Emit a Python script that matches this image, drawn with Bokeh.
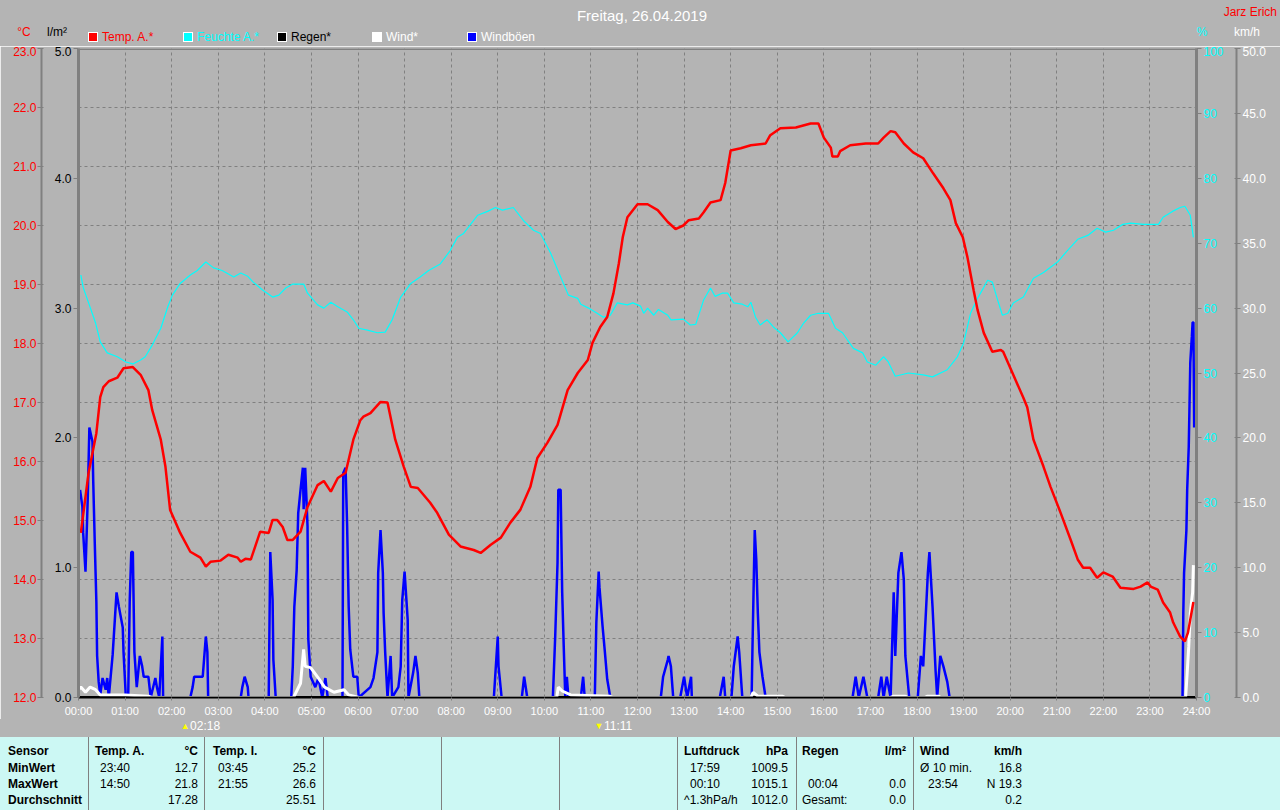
from bokeh.plotting import figure
from bokeh.models import (Range1d, LinearAxis, FixedTicker, NumeralTickFormatter, Span, Div)
from bokeh.layouts import column
from bokeh.embed import file_html
from bokeh.resources import INLINE

# ---------------- data ----------------
hour_ticks = [0, 60, 120, 180, 240, 300, 360, 420, 480, 540, 600, 660, 720,
              780, 840, 900, 960, 1020, 1080, 1140, 1200, 1260, 1320, 1380, 1440]
hour_labels = ["00:00", "01:00", "02:00", "03:00", "04:00", "05:00", "06:00",
               "07:00", "08:00", "09:00", "10:00", "11:00", "12:00", "13:00",
               "14:00", "15:00", "16:00", "17:00", "18:00", "19:00", "20:00",
               "21:00", "22:00", "23:00", "24:00"]
temp_ticks = [12, 13, 14, 15, 16, 17, 18, 19, 20, 21, 22, 23]
rain_ticks = [0, 1, 2, 3, 4, 5]
hum_ticks = [0, 10, 20, 30, 40, 50, 60, 70, 80, 90, 100]
wind_ticks = [0, 5, 10, 15, 20, 25, 30, 35, 40, 45, 50]

# Temp. A. (minutes after midnight, degC)
temp_t = [3, 13, 23, 28, 32, 39, 50, 58, 70, 80,
          90, 95, 106, 112, 118, 131, 144, 157, 164, 170,
          183, 193, 205, 209, 215, 222, 234, 245, 250, 256,
          263, 269, 276, 286, 295, 308, 316, 325, 334, 344,
          354, 363, 367, 376, 389, 398, 408, 419, 428, 437,
          453, 462, 477, 492, 509, 518, 531, 544, 556, 569,
          582, 591, 604, 617, 630, 643, 656, 662, 672, 681,
          689, 696, 701, 707, 720, 733, 746, 759, 769, 779,
          786, 799, 805, 814, 827, 833, 840, 853, 866, 885,
          891, 904, 924, 943, 953, 960, 969, 971, 978, 981,
          994, 1014, 1030, 1037, 1046, 1052, 1063, 1075, 1088, 1101,
          1114, 1123, 1130, 1139, 1145, 1153, 1158, 1166, 1177, 1188,
          1191, 1203, 1217, 1222, 1230, 1243, 1252, 1265, 1278, 1287,
          1294, 1303, 1312, 1320, 1332, 1342, 1359, 1368, 1377, 1381,
          1390, 1397, 1406, 1410, 1419, 1425, 1429, 1436]
temp_v = [14.79, 15.81, 16.48, 17.09, 17.26, 17.36, 17.42, 17.58, 17.60, 17.47,
          17.21, 16.87, 16.37, 15.91, 15.18, 14.79, 14.47, 14.37, 14.22, 14.30,
          14.32, 14.42, 14.37, 14.30, 14.35, 14.34, 14.81, 14.79, 15.01, 15.01,
          14.89, 14.67, 14.67, 14.81, 15.23, 15.60, 15.67, 15.49, 15.72, 15.81,
          16.37, 16.70, 16.76, 16.82, 17.01, 17.00, 16.37, 15.91, 15.57, 15.55,
          15.30, 15.13, 14.76, 14.56, 14.50, 14.45, 14.59, 14.71, 14.96, 15.18,
          15.57, 16.06, 16.32, 16.62, 17.21, 17.50, 17.72, 18.01, 18.28, 18.45,
          18.85, 19.36, 19.80, 20.14, 20.36, 20.36, 20.26, 20.06, 19.94, 20.00,
          20.09, 20.12, 20.22, 20.39, 20.43, 20.72, 21.27, 21.31, 21.36, 21.39,
          21.53, 21.65, 21.66, 21.73, 21.73, 21.49, 21.32, 21.17, 21.17, 21.26,
          21.36, 21.39, 21.39, 21.49, 21.60, 21.58, 21.39, 21.24, 21.14, 20.88,
          20.63, 20.43, 20.04, 19.80, 19.46, 18.90, 18.57, 18.18, 17.86, 17.89,
          17.86, 17.50, 17.08, 16.92, 16.37, 15.91, 15.57, 15.13, 14.67, 14.34,
          14.20, 14.20, 14.03, 14.12, 14.05, 13.86, 13.84, 13.88, 13.95, 13.88,
          13.83, 13.61, 13.44, 13.27, 13.03, 12.95, 13.10, 13.62]

# Feuchte A. (minutes, %)
hum_t = [3, 6, 13, 22, 28, 37, 50, 61, 70, 80,
         86, 95, 106, 115, 121, 131, 144, 153, 164, 174,
         185, 200, 209, 218, 225, 237, 250, 258, 267, 276,
         290, 295, 308, 316, 325, 334, 346, 354, 361, 372,
         385, 395, 404, 415, 428, 440, 451, 466, 479, 488,
         496, 514, 527, 537, 546, 560, 573, 586, 595, 608,
         621, 631, 643, 647, 657, 668, 676, 685, 694, 707,
         714, 724, 728, 733, 741, 747, 759, 763, 779, 788,
         795, 805, 814, 820, 829, 836, 844, 855, 862, 866,
         872, 878, 887, 895, 904, 914, 926, 934, 943, 953,
         966, 975, 984, 998, 1010, 1016, 1027, 1037, 1043, 1052,
         1069, 1088, 1100, 1119, 1132, 1140, 1149, 1158, 1166, 1171,
         1177, 1184, 1190, 1197, 1204, 1217, 1230, 1243, 1261, 1274,
         1287, 1300, 1312, 1323, 1333, 1345, 1355, 1372, 1391, 1397,
         1409, 1419, 1425, 1432, 1436]
hum_v = [65.1, 63.2, 60.8, 57.7, 54.8, 53.1, 52.5, 51.7, 51.4, 52.0,
         52.5, 54.3, 56.9, 60.2, 62.0, 63.8, 65.1, 65.8, 67.1, 66.2,
         65.8, 64.8, 65.4, 64.9, 64.0, 62.8, 61.7, 62.0, 63.1, 63.7,
         63.7, 62.3, 60.5, 60.0, 60.9, 60.2, 59.4, 58.2, 56.9, 56.6,
         56.2, 56.3, 58.2, 61.7, 63.8, 64.8, 65.8, 66.8, 68.9, 70.9,
         71.5, 74.3, 74.9, 75.5, 75.1, 75.5, 73.5, 72.0, 71.5, 68.5,
         64.8, 62.0, 61.5, 60.6, 60.0, 59.2, 58.6, 58.9, 60.8, 60.5,
         60.8, 60.3, 59.2, 60.0, 58.9, 59.8, 58.9, 58.2, 58.3, 57.4,
         57.5, 61.2, 63.1, 61.8, 62.3, 62.3, 60.8, 60.6, 60.2, 60.9,
         58.6, 57.4, 58.2, 57.1, 56.2, 54.8, 56.2, 57.7, 58.9, 59.2,
         59.2, 56.9, 56.2, 53.8, 53.1, 51.7, 51.2, 52.5, 51.7, 49.5,
         50.0, 49.7, 49.4, 50.5, 52.5, 54.6, 59.2, 61.5, 63.2, 64.3,
         64.0, 61.2, 58.9, 59.2, 60.8, 61.7, 64.6, 65.5, 67.1, 68.9,
         70.6, 71.2, 72.3, 71.7, 72.0, 72.9, 73.1, 72.9, 72.9, 74.0,
         74.9, 75.5, 75.7, 74.3, 70.9]

# Regen (minutes, l/m2)
rain_t = [0, 1440]
rain_v = [0.0, 0.0]

# Wind (minutes, km/h)
wind_t = [0, 3, 9, 15, 22, 28, 60, 90, 95,
          277, 286, 290, 292, 299, 309, 317, 329, 342, 348, 361,
          616, 618, 623, 634, 685, 688,
          866, 869, 875, 907, 910,
          1046, 1050, 1065, 1068,
          1090, 1093, 1108, 1110,
          1426, 1428, 1430, 1432, 1435, 1436]
wind_v = [0.6, 0.8, 0.4, 0.8, 0.6, 0.2, 0.2, 0.1, 0.0,
          0.0, 1.1, 3.7, 2.4, 2.3, 1.5, 0.8, 0.4, 0.6, 0.2, 0.0,
          0.0, 0.8, 0.5, 0.2, 0.1, 0.0,
          0.0, 0.4, 0.1, 0.1, 0.0,
          0.0, 0.1, 0.1, 0.0,
          0.0, 0.1, 0.1, 0.0,
          0.0, 1.9, 3.9, 6.5, 8.1, 10.2]

# Windboeen (minutes, km/h)
gust_t = [2, 5, 6, 9, 12, 14, 18, 19, 21, 23,
          24, 26, 28, 31, 35, 37, 39, 44, 49, 52,
          57, 58, 61, 64, 66, 68, 70, 72, 75, 79,
          82, 84, 90, 93, 99, 101, 104, 108, 109, 144,
          147, 149, 160, 164, 166, 167, 209, 211, 214, 218,
          219, 245, 247, 250, 251, 254, 274, 276, 278, 281,
          283, 286, 289, 290, 292, 295, 296, 299, 305, 309,
          314, 318, 321, 340, 341, 344, 346, 348, 350, 354,
          359, 361, 376, 380, 385, 386, 389, 392, 393, 395,
          398, 402, 404, 412, 415, 417, 420, 424, 425, 431,
          434, 437, 439, 535, 540, 541, 545, 571, 574, 578,
          611, 614, 617, 618, 621, 623, 625, 627, 629, 631,
          647, 650, 652, 665, 667, 670, 671, 675, 678, 681,
          685, 750, 753, 759, 760, 763, 765, 766, 775, 780,
          784, 789, 790, 826, 831, 833, 841, 844, 849, 851,
          855, 867, 868, 871, 873, 875, 877, 881, 885, 997,
          1001, 1005, 1011, 1016, 1030, 1034, 1037, 1041, 1046, 1050,
          1052, 1056, 1060, 1063, 1065, 1070, 1081, 1085, 1088, 1094,
          1096, 1100, 1104, 1106, 1110, 1114, 1119, 1122, 1422, 1423,
          1424, 1427, 1428, 1430, 1431, 1432, 1434, 1435, 1436, 1437]
gust_v = [16.0, 14.7, 12.7, 9.7, 15.5, 20.8, 19.7, 16.6, 11.8, 7.4,
          3.2, 1.2, 0.2, 1.5, 0.6, 1.5, 0.0, 3.3, 8.1, 7.0,
          5.4, 3.5, 0.0, 0.0, 7.5, 11.2, 11.2, 3.5, 0.8, 3.2,
          2.4, 1.6, 1.6, 0.0, 1.5, 0.8, 0.0, 4.7, 0.0, 0.0,
          0.8, 1.6, 1.6, 4.7, 3.5, 0.0, 0.0, 0.8, 1.6, 0.8,
          0.0, 0.0, 11.2, 7.5, 2.9, 0.0, 0.0, 2.4, 7.0, 9.8,
          14.2, 16.0, 17.7, 14.5, 17.7, 13.2, 4.5, 1.6, 0.8, 1.5,
          0.0, 1.5, 0.0, 0.0, 17.3, 17.7, 13.2, 7.0, 3.7, 1.6,
          1.6, 0.0, 0.8, 1.5, 3.5, 9.6, 12.9, 9.6, 6.5, 3.5,
          0.0, 3.2, 0.0, 0.8, 2.4, 7.5, 9.7, 6.0, 0.0, 1.9,
          3.2, 1.9, 0.0, 0.0, 4.7, 2.4, 0.0, 0.0, 1.6, 0.0,
          0.0, 4.7, 10.4, 16.0, 16.0, 8.1, 3.9, 0.0, 1.6, 0.0,
          0.0, 1.6, 0.0, 0.0, 5.8, 9.7, 8.5, 5.5, 3.5, 1.4,
          0.0, 0.0, 1.6, 2.9, 3.2, 2.4, 0.8, 0.0, 0.0, 1.6,
          0.0, 1.6, 0.0, 0.0, 1.6, 0.0, 0.0, 2.4, 4.7, 3.5,
          0.0, 0.0, 3.5, 12.9, 10.6, 6.5, 3.5, 1.6, 0.0, 0.0,
          1.6, 0.0, 1.6, 0.0, 0.0, 1.6, 0.0, 1.6, 0.0, 8.1,
          3.2, 9.6, 11.2, 9.1, 3.2, 0.0, 0.0, 3.2, 2.4, 9.6,
          11.2, 7.0, 2.0, 0.0, 3.2, 2.4, 1.2, 0.0, 0.0, 6.5,
          9.6, 12.9, 16.0, 19.3, 22.5, 25.8, 27.8, 28.9, 28.9, 20.8]

event_t = [138, 671]
event_lbl = ["02:18", "11:11"]
event_icon = ["\u25B2", "\u25BC"]

legend_names = ["Temp. A.*", "Feuchte A.*", "Regen*", "Wind*", "Windböen"]
legend_fill = ["#FF0000", "#00FFFF", "#000000", "#FFFFFF", "#0000FF"]
legend_text = ["#FF0000", "#00FFFF", "#000000", "#FFFFFF", "#FFFFFF"]

title_text = "Freitag, 26.04.2019"
author_text = "Jarz Erich"

table_cells = [
    # (x anchor px, row, text, align, bold)
    (8, 0, "Sensor", "left", True), (8, 1, "MinWert", "left", True),
    (8, 2, "MaxWert", "left", True), (8, 3, "Durchschnitt", "left", True),
    (95, 0, "Temp. A.", "left", True), (198, 0, "°C", "right", True),
    (100, 1, "23:40", "left", False), (198, 1, "12.7", "right", False),
    (100, 2, "14:50", "left", False), (198, 2, "21.8", "right", False),
    (198, 3, "17.28", "right", False),
    (213, 0, "Temp. I.", "left", True), (316, 0, "°C", "right", True),
    (218, 1, "03:45", "left", False), (316, 1, "25.2", "right", False),
    (218, 2, "21:55", "left", False), (316, 2, "26.6", "right", False),
    (316, 3, "25.51", "right", False),
    (684, 0, "Luftdruck", "left", True), (788, 0, "hPa", "right", True),
    (690, 1, "17:59", "left", False), (788, 1, "1009.5", "right", False),
    (690, 2, "00:10", "left", False), (788, 2, "1015.1", "right", False),
    (684, 3, "^1.3hPa/h", "left", False), (788, 3, "1012.0", "right", False),
    (802, 0, "Regen", "left", True), (906, 0, "l/m²", "right", True),
    (808, 2, "00:04", "left", False), (906, 2, "0.0", "right", False),
    (802, 3, "Gesamt:", "left", False), (906, 3, "0.0", "right", False),
    (920, 0, "Wind", "left", True), (1022, 0, "km/h", "right", True),
    (920, 1, "Ø 10 min.", "left", False), (1022, 1, "16.8", "right", False),
    (928, 2, "23:54", "left", False), (1022, 2, "N 19.3", "right", False),
    (1022, 3, "0.2", "right", False),
]

# ---------------- styles ----------------
W = 1280
BG = "#B4B4B4"
CYAN_BG = "#CCF8F4"
GRID = "#808080"
FONT = "Liberation Sans"
FRAME_L, FRAME_R = 78, 1196

# ---------------- chart ----------------
p = figure(width=W, height=673, x_range=Range1d(0, 1440), y_range=Range1d(12, 23),
           y_axis_location=None, output_backend="svg", toolbar_location=None,
           min_border_left=FRAME_L, min_border_right=W - FRAME_R,
           min_border_top=2, min_border_bottom=21,
           background_fill_color=BG, border_fill_color=BG, outline_line_color=None)
p.extra_y_ranges = {"rain": Range1d(0, 5), "hum": Range1d(0, 100), "wind": Range1d(0, 50)}

xa = p.xaxis[0]
xa.ticker = FixedTicker(ticks=hour_ticks)
xa.major_label_overrides = {t: l for t, l in zip(hour_ticks, hour_labels)}
xa.axis_line_color = "black"
xa.axis_line_width = 2
xa.major_tick_line_color = GRID
xa.major_tick_out = 3
xa.major_tick_in = 0
xa.minor_tick_line_color = None
xa.major_label_text_color = "white"
xa.major_label_text_font = FONT
xa.major_label_text_font_size = "11px"
xa.major_label_standoff = 4

p.xgrid.ticker = FixedTicker(ticks=hour_ticks)
p.ygrid.ticker = FixedTicker(ticks=temp_ticks)
for g in (p.xgrid[0], p.ygrid[0]):
    g.grid_line_color = GRID
    g.grid_line_dash = "3 3"
    g.grid_line_width = 1


def style_axis(ax, color, line_w, tick_out, tick_in, standoff, pad=None):
    ax.axis_line_color = GRID
    ax.axis_line_width = line_w
    ax.major_tick_line_color = GRID
    ax.major_tick_out = tick_out
    ax.major_tick_in = tick_in
    ax.minor_tick_line_color = None
    ax.major_label_text_color = color
    ax.major_label_text_font = FONT
    ax.major_label_text_font_size = "12px"
    ax.major_label_standoff = standoff
    if pad:
        ax.axis_label = "."
        ax.axis_label_text_alpha = 0
        ax.axis_label_text_font_size = pad
        ax.axis_label_standoff = 2


ax_rain = LinearAxis(y_range_name="rain", ticker=FixedTicker(ticks=rain_ticks),
                     formatter=NumeralTickFormatter(format="0.0"))
style_axis(ax_rain, "black", 3, 5, 0, 2, pad="8px")
p.add_layout(ax_rain, "left")

ax_temp = LinearAxis(ticker=FixedTicker(ticks=temp_ticks),
                     formatter=NumeralTickFormatter(format="0.0"))
style_axis(ax_temp, "#FF0000", 2, 4, 2, 1)
p.add_layout(ax_temp, "left")

ax_hum = LinearAxis(y_range_name="hum", ticker=FixedTicker(ticks=hum_ticks),
                    formatter=NumeralTickFormatter(format="0"))
style_axis(ax_hum, "#00FFFF", 3, 5, 0, 2, pad="7px")
p.add_layout(ax_hum, "right")

ax_wind = LinearAxis(y_range_name="wind", ticker=FixedTicker(ticks=wind_ticks),
                     formatter=NumeralTickFormatter(format="0.0"))
style_axis(ax_wind, "white", 2, 4, 2, 2)
p.add_layout(ax_wind, "right")

p.add_layout(Span(location=23, dimension="width", line_color=GRID, line_width=3))

p.line(gust_t, gust_v, y_range_name="wind", line_color="#0000FF", line_width=2.5)
p.line(rain_t, rain_v, y_range_name="rain", line_color="black", line_width=3)
p.line(wind_t, wind_v, y_range_name="wind", line_color="white", line_width=3)
p.line(hum_t, hum_v, y_range_name="hum", line_color="#00FFFF", line_width=1.2)
p.line(temp_t, temp_v, line_color="#FF0000", line_width=2.5)


# ---------------- html helpers for header / table ----------------
def txt(x, yc, text, color, size=12, align="left", bold=False, lh=14):
    if align == "left":
        pos = f"left:{x}px;"
    elif align == "right":
        pos = f"right:{W - x}px;"
    else:
        pos = f"left:{x}px;transform:translateX(-50%);"
    weight = "bold" if bold else "normal"
    return (f'<span style="position:absolute;{pos}top:{yc - lh / 2}px;line-height:{lh}px;'
            f'color:{color};font-size:{size}px;font-weight:{weight};white-space:nowrap;">'
            f'{text}</span>')


base_style = f"position:relative;width:{W}px;font-family:'{FONT}',Arial,sans-serif;overflow:hidden;"

# header: title, units, legend
hdr = [f'<div style="{base_style}height:46px;background:{BG};">']
hdr.append(txt(642, 15, title_text, "#FFFFFF", size=15, align="center", lh=17))
hdr.append(txt(1277, 12, author_text, "#FF0000", align="right"))
hdr.append(txt(24, 32, "°C", "#FF0000", align="center"))
hdr.append(txt(57, 32, "l/m²", "#000000", align="center"))
hdr.append(txt(1202, 32, "%", "#00FFFF", align="center"))
hdr.append(txt(1247, 32, "km/h", "#FFFFFF", align="center"))
leg_x = [88, 183, 277, 372, 467]
for name, fc, tc, lx in zip(legend_names, legend_fill, legend_text, leg_x):
    hdr.append(f'<span style="position:absolute;box-sizing:border-box;left:{lx}px;top:32px;'
               f'width:10px;height:10px;background:{fc};border:1px solid #FFFFFF;"></span>')
    hdr.append(txt(lx + 14, 37, name, tc))
hdr.append("</div>")
header = Div(text="".join(hdr), width=W, height=46, margin=0)

# footer: event markers + statistics table
scale = (FRAME_R - FRAME_L) / 1440.0
ftr = [f'<div style="{base_style}height:91px;background:{BG};">']
for et, el, ei in zip(event_t, event_lbl, event_icon):
    ex = FRAME_L + et * scale
    ftr.append(txt(round(ex, 1), 7, ei, "#FFFF00", size=9, align="center", lh=11))
    ftr.append(txt(round(ex + 5, 1), 7, el, "#FFFFFF", size=12, lh=13))
ftr.append(f'<div style="position:absolute;left:0;top:18px;width:{W}px;height:73px;background:{CYAN_BG};">')
sep_x = [88, 204, 323, 441, 559, 677, 796, 913]
for sx in sep_x:
    ftr.append(f'<div style="position:absolute;left:{sx}px;top:0;width:1px;height:73px;background:#808080;"></div>')
row_y = [14, 31, 47, 63]
for cx, row, t, al, bold in table_cells:
    ftr.append(txt(cx, row_y[row], t, "#000000", align=al, bold=bold))
ftr.append("</div></div>")
footer = Div(text="".join(ftr), width=W, height=91, margin=0)

layout = column(header, p, footer, spacing=0)
open("out.html", "w", encoding="utf-8").write(file_html(layout, INLINE))
